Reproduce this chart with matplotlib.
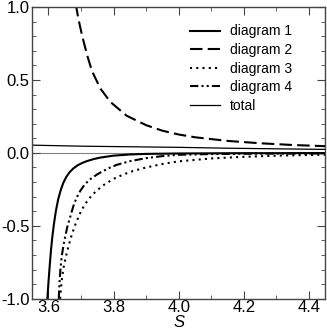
import matplotlib
matplotlib.use('Agg')
import matplotlib.pyplot as plt
from matplotlib.ticker import MultipleLocator

plt.rcParams['font.family'] = ['Liberation Sans', 'DejaVu Sans']
plt.rcParams['axes.unicode_minus'] = False

# diagram 1 (thick solid)
s_d1 = [3.597, 3.600, 3.604, 3.608, 3.612, 3.617, 3.623, 3.630, 3.638, 3.646,
        3.655, 3.665, 3.677, 3.690, 3.705, 3.72, 3.74, 3.76, 3.80, 3.85, 3.90,
        4.00, 4.10, 4.20, 4.30, 4.45]
v_d1 = [-1.0, -0.90, -0.78, -0.67, -0.58, -0.49, -0.40, -0.32, -0.255, -0.205,
        -0.165, -0.133, -0.106, -0.085, -0.068, -0.055, -0.042, -0.032, -0.019,
        -0.011, -0.007, -0.004, -0.003, -0.002, -0.002, -0.001]

# diagram 2 (dashed)
s_d2 = [3.684, 3.693, 3.704, 3.719, 3.734, 3.76, 3.79, 3.84, 3.90, 3.95,
        4.00, 4.05, 4.15, 4.25, 4.35, 4.45]
v_d2 = [1.02, 0.91, 0.80, 0.67, 0.56, 0.44, 0.35, 0.255, 0.19, 0.152,
        0.126, 0.107, 0.082, 0.066, 0.054, 0.046]

# diagram 3 (dotted)
s_d3 = [3.636, 3.639, 3.643, 3.648, 3.655, 3.663, 3.672, 3.683, 3.696, 3.71,
        3.726, 3.745, 3.77, 3.80, 3.83, 3.86, 3.90, 3.95, 4.00, 4.10, 4.20,
        4.30, 4.45]
v_d3 = [-1.0, -0.92, -0.84, -0.77, -0.70, -0.63, -0.56, -0.49, -0.42, -0.36,
        -0.31, -0.265, -0.22, -0.178, -0.148, -0.124, -0.10, -0.076, -0.058,
        -0.038, -0.027, -0.019, -0.012]

# diagram 4 (dash-dot-dot)
s_d4 = [3.632, 3.634, 3.637, 3.641, 3.646, 3.652, 3.659, 3.667, 3.676, 3.686,
        3.698, 3.712, 3.73, 3.75, 3.77, 3.79, 3.81, 3.85, 3.90, 3.95, 4.00,
        4.10, 4.20, 4.30, 4.45]
v_d4 = [-1.0, -0.90, -0.80, -0.71, -0.64, -0.57, -0.50, -0.44, -0.37, -0.31,
        -0.26, -0.215, -0.178, -0.147, -0.122, -0.10, -0.082, -0.057, -0.036,
        -0.022, -0.013, -0.008, -0.006, -0.005, -0.004]

# total (thin solid)
s_tot = [3.55, 3.70, 3.85, 4.00, 4.15, 4.30, 4.45]
v_tot = [0.053, 0.046, 0.042, 0.038, 0.032, 0.028, 0.024]

fig = plt.figure(figsize=(3.27, 3.32), dpi=100)
ax = fig.add_axes([0.098, 0.100, 0.897, 0.879])

ax.axhline(0, color='gray', lw=0.8, zorder=1)
ax.plot(s_d1, v_d1, color='black', lw=1.5, label='diagram 1')
ax.plot(s_d2, v_d2, color='black', lw=1.5, dashes=(6, 2.5), label='diagram 2')
ax.plot(s_d3, v_d3, color='black', lw=1.5, dashes=(1, 2), label='diagram 3')
ax.plot(s_d4, v_d4, color='black', lw=1.5, dashes=(4, 1.5, 1, 1.5, 1, 1.5),
        label='diagram 4')
ax.plot(s_tot, v_tot, color='black', lw=0.9, label='total')

ax.set_xlim(3.55, 4.45)
ax.set_ylim(-1.0, 1.0)
ax.xaxis.set_major_locator(MultipleLocator(0.2))
ax.xaxis.set_minor_locator(MultipleLocator(0.1))
ax.yaxis.set_major_locator(MultipleLocator(0.5))
ax.yaxis.set_minor_locator(MultipleLocator(0.1))
ax.tick_params(which='both', direction='in', top=True, right=True,
               labelsize=12, pad=2, color='#444444')
ax.tick_params(axis='x', which='both', pad=1)
ax.tick_params(which='major', length=6)
ax.tick_params(which='minor', length=3)
for sp in ax.spines.values():
    sp.set_color('#444444')
    sp.set_linewidth(1.0)

ax.set_xlabel('S', fontsize=12, style='italic', labelpad=0)

ax.legend(loc='upper left', bbox_to_anchor=(0.538, 0.94), frameon=False,
          fontsize=10, handlelength=2.16, handletextpad=0.72,
          labelspacing=0.33, borderpad=0, borderaxespad=0)

fig.savefig('out.png', dpi=100)
